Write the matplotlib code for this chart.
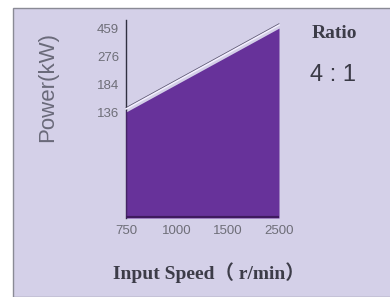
import matplotlib
matplotlib.use("Agg")
import matplotlib.pyplot as plt
import matplotlib.transforms as mtransforms
from matplotlib.patches import Rectangle

# Data
speeds = [750, 1000, 1500, 2500]          # input speed r/min (x tick labels)
powers = [136, 184, 276, 459]             # power kW (y tick labels)
ratio_label = "4 : 1"

W, H = 390, 297
fig = plt.figure(figsize=(W / 100, H / 100), dpi=100)
fig.patch.set_facecolor("white")

# Panel background
panel = Rectangle((13 / W, 0 / H), (W - 12) / W, (H - 8) / H,
                  transform=fig.transFigure, facecolor="#d4d0e8",
                  edgecolor="#8a8a95", linewidth=1.0, zorder=-5)
fig.patches.append(panel)

left, right, bottom, top = 126, 279, 218, 20
ax = fig.add_axes([left / W, (H - bottom) / H, (right - left) / W, (bottom - top) / H])
ax.set_facecolor("none")
ax.set_zorder(2)

xi = list(range(len(speeds)))
yi = list(range(len(powers)))
ax.set_xlim(0, len(speeds) - 1)
ax.set_ylim(-3.79, 3.29)
ybot = ax.get_ylim()[0]

# The chart is an index-scale sketch: line from lowest to highest point
xs = [xi[0], xi[-1]]
ys = [yi[0], yi[-1]]
ax.fill_between(xs, ys, ybot, color="#67329a", linewidth=0, zorder=2)
ax.plot([xs[0], xs[0]], [ybot, ys[0]], color="#4a2070", lw=1.2, zorder=3)
ax.plot(xs, [ybot, ybot], color="#3e1a5e", lw=3, zorder=3, solid_capstyle="butt")
shift = mtransforms.offset_copy(ax.transData, fig=fig, x=0, y=2.2, units="points")
ax.plot(xs, ys, color="#f4f0ff", lw=1.1, transform=shift, zorder=3, clip_on=False)
shift2 = mtransforms.offset_copy(ax.transData, fig=fig, x=0, y=3.2, units="points")
ax.plot(xs, ys, color="#55506a", lw=0.5, transform=shift2, zorder=3, clip_on=False)

for s in ["top", "right", "bottom"]:
    ax.spines[s].set_visible(False)
ax.spines["left"].set_color("#303040")
ax.spines["left"].set_linewidth(1.0)

ax.set_xticks(xi)
ax.set_xticklabels([str(v) for v in speeds])
ax.set_yticks(yi)
ax.set_yticklabels([str(v) for v in powers])
ax.tick_params(axis="both", length=0, colors="#6e6e78", labelsize=9.5)
ax.tick_params(axis="x", pad=5)
ax.tick_params(axis="y", pad=5)
for lab in ax.get_xticklabels() + ax.get_yticklabels():
    lab.set_family("Liberation Sans")
    lab.set_fontstretch("condensed")

fig.text(48 / W, 1 - 87 / H, "Power(kW)", rotation=90, ha="center", va="center",
         fontsize=16, color="#6a6a7a", family="Liberation Sans")
fig.text(209 / W, 1 - 273 / H, "Input Speed（ r/min）", ha="center", va="center",
         fontsize=14, fontweight="bold", color="#3c3c48",
         family=["Liberation Serif", "Noto Sans CJK SC"])
fig.text(334 / W, 1 - 34 / H, "Ratio", ha="center", va="center",
         fontsize=14, fontweight="bold", color="#3c3c48", family="Liberation Serif")
fig.text(333 / W, 1 - 75 / H, ratio_label, ha="center", va="center",
         fontsize=17, color="#3a3a46", family="Liberation Sans")

fig.savefig("out.png", dpi=100)
